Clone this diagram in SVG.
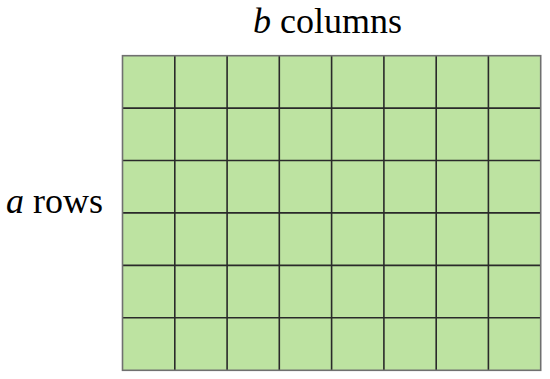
<svg xmlns="http://www.w3.org/2000/svg" width="550" height="379" viewBox="0 0 550 379">
<style>
.cell{fill:#bde3a1;stroke:none}
.inner{stroke:#2a2a2a;stroke-width:1.6;fill:none}
.border{fill:none;stroke:#707070;stroke-width:1.6}
</style>
<rect width="550" height="379" fill="#fff"/>
<g id="grid">
<rect class="cell" x="122.5" y="55.7" width="418.2" height="314.6"/>
<path class="inner" d="M174.8 55.7V370.3M227.1 55.7V370.3M279.3 55.7V370.3M331.6 55.7V370.3M383.9 55.7V370.3M436.2 55.7V370.3M488.4 55.7V370.3M122.5 108.1H540.7M122.5 160.5H540.7M122.5 212.9H540.7M122.5 265.4H540.7M122.5 317.8H540.7"/>
<rect class="border" x="122.5" y="55.7" width="418.2" height="314.6"/>
</g>
<g id="label-columns"><text font-family="Liberation Serif, serif" font-size="36" x="253" y="33"><tspan font-style="italic">b</tspan> columns</text></g>
<g id="label-rows"><text font-family="Liberation Serif, serif" font-size="36" x="6" y="213"><tspan font-style="italic">a</tspan> rows</text></g>
</svg>
